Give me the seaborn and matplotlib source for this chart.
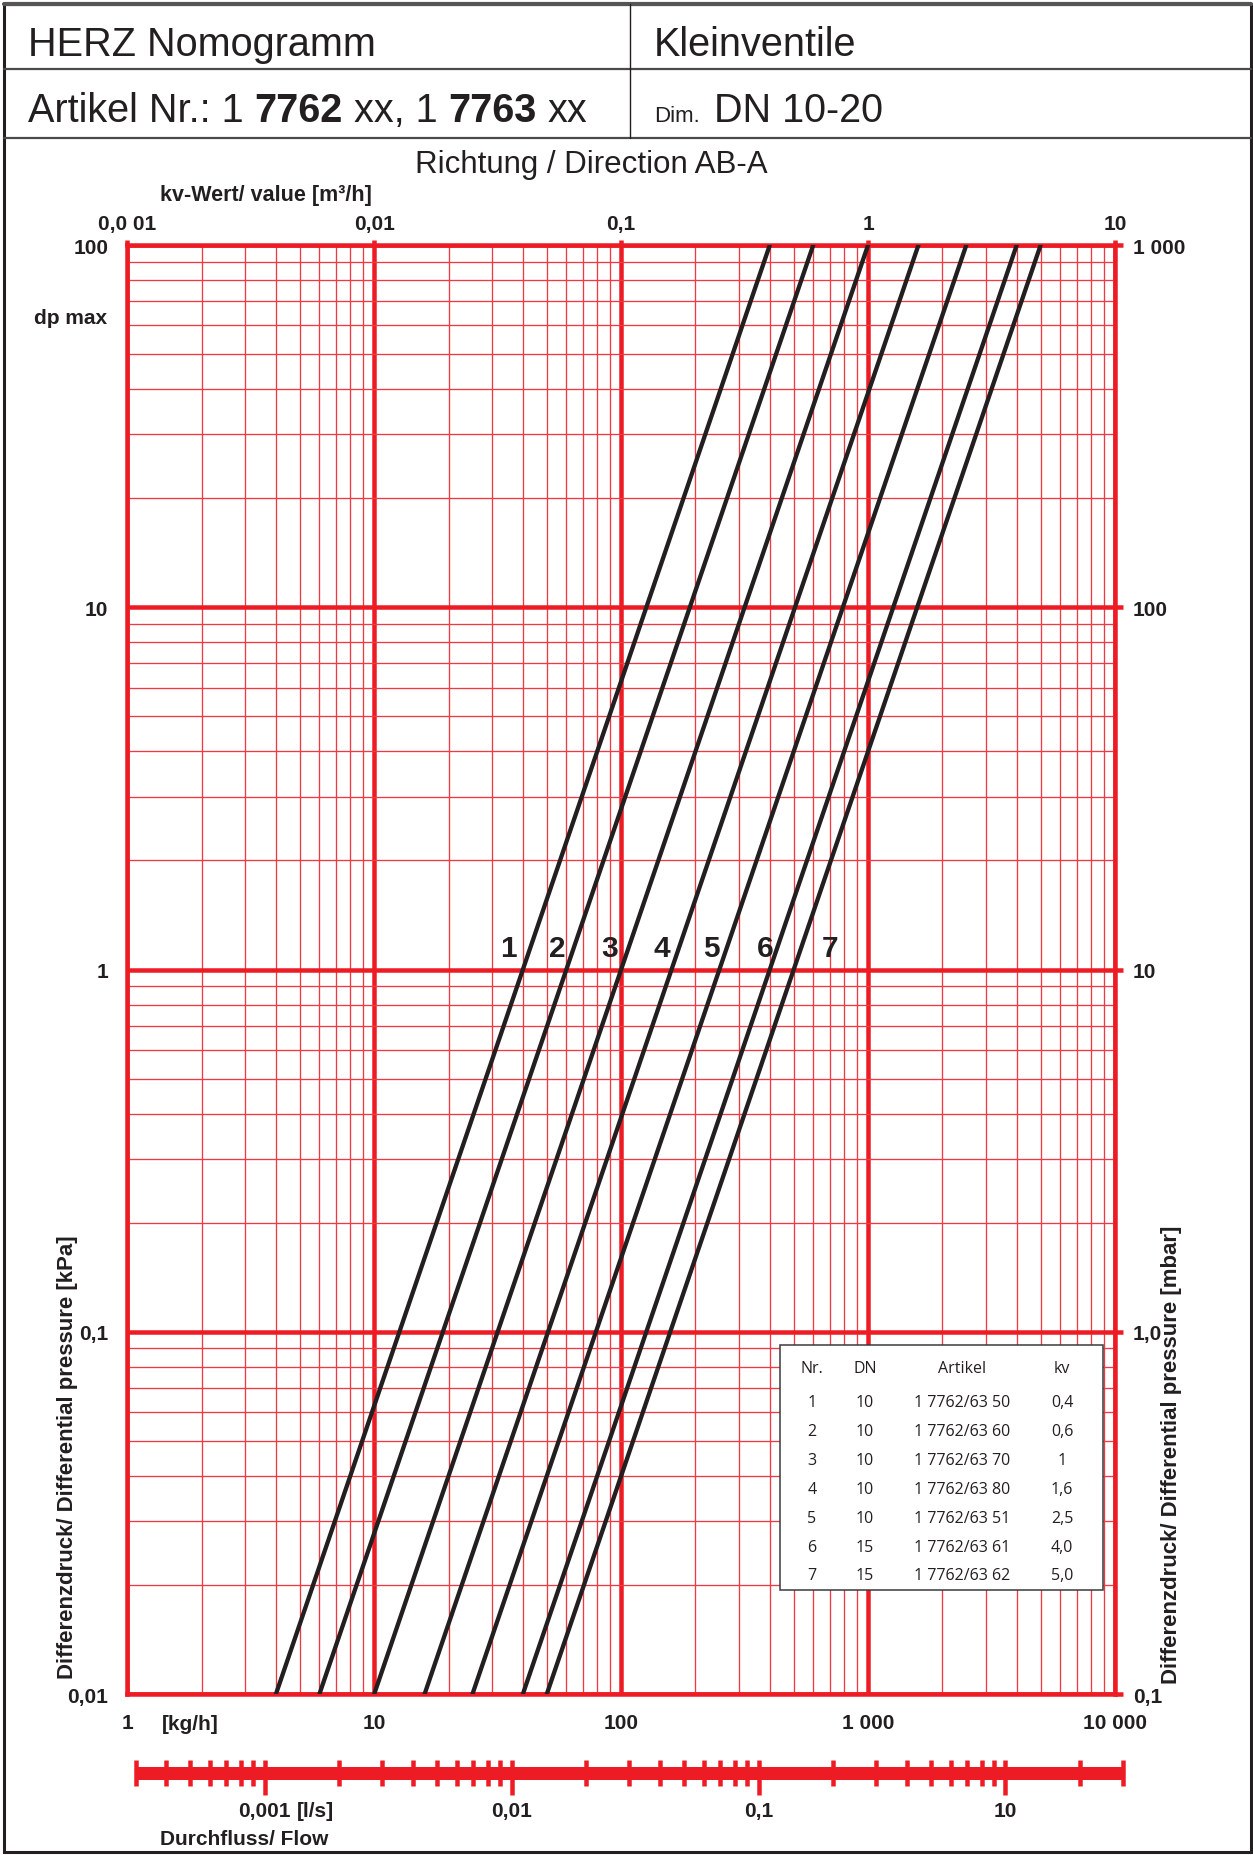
import pandas as pd
import matplotlib
matplotlib.use("Agg")
import matplotlib.pyplot as plt
import seaborn as sns
from matplotlib.lines import Line2D
from matplotlib.patches import Rectangle
from matplotlib.ticker import LogLocator, NullFormatter

# ---- values ----
curve_nr = [1, 2, 3, 4, 5, 6, 7]
dp_ends = [0.01, 100]                                   # kPa, lines run from bottom to top of grid
flow_at_dp_min = [4, 6, 10, 16, 25, 40, 50]             # kg/h at 0,01 kPa
flow_at_dp_max = [400, 600, 1000, 1600, 2500, 4000, 5000]  # kg/h at 100 kPa

table_dn = [10, 10, 10, 10, 10, 15, 15]
table_artikel = ["1 7762/63 50", "1 7762/63 60", "1 7762/63 70", "1 7762/63 80",
                 "1 7762/63 51", "1 7762/63 61", "1 7762/63 62"]
table_kv = ["0,4", "0,6", "1", "1,6", "2,5", "4,0", "5,0"]

dp_ticks = [0.01, 0.1, 1, 10, 100]
dp_labels = ["0,01", "0,1", "1", "10", "100"]
mbar_ticks = [0.1, 1, 10, 100, 1000]
mbar_labels = ["0,1", "1,0", "10", "100", "1 000"]
kgh_ticks = [1, 10, 100, 1000, 10000]
kgh_labels = ["1", "10", "100", "1 000", "10 000"]
kv_ticks = [0.001, 0.01, 0.1, 1, 10]
kv_labels = ["0,0 01", "0,01", "0,1", "1", "10"]

# flow scale in l/s under the chart
ls_major = [0.001, 0.01, 0.1, 1]
ls_major_labels = ["0,001", "0,01", "0,1", "10"]
ls_minor = [0.0003, 0.0004, 0.0005, 0.0006, 0.0007, 0.0008, 0.0009,
            0.002, 0.003, 0.004, 0.005, 0.006, 0.007, 0.008, 0.009,
            0.02, 0.03, 0.04, 0.05, 0.06, 0.07, 0.08, 0.09,
            0.2, 0.3, 0.4, 0.5, 0.6, 0.7, 0.8, 0.9, 2, 3]
KG_PER_LS = 3600  # kg/h of water per l/s

# where the curve numbers sit
label_flow = [35, 55, 90, 146, 233, 382, 700]
label_dp = 1.15

rows = []
for nr, f0, f1 in zip(curve_nr, flow_at_dp_min, flow_at_dp_max):
    rows.append((nr, f0, dp_ends[0]))
    rows.append((nr, f1, dp_ends[1]))
df = pd.DataFrame(rows, columns=["nr", "flow", "dp"])

sns.set_style("white")
plt.rcParams["font.family"] = ["Liberation Sans", "DejaVu Sans"]

RED = "#ED1C24"
RED_MINOR = "#EE3A43"
INK = "#231F20"
W, H = 1253, 1856
MAJ = 4.5 * 0.72   # px -> pt at dpi 100
TL = 15            # tick label size


def fx(x):
    return x / W


def fy(y):
    return 1 - y / H


fig = plt.figure(figsize=(W / 100, H / 100), dpi=100)

# ---- header frame ----
fig.add_artist(Rectangle((fx(4), fy(1853)), (1251 - 4) / W, (1853 - 5) / H,
                         transform=fig.transFigure, fill=False, ec=INK, lw=2.2))
fig.add_artist(Line2D([fx(4), fx(1251)], [fy(5), fy(5)], color="#555555", lw=3.0))
for yy in [70, 139]:
    fig.add_artist(Line2D([fx(4), fx(1251)], [fy(yy), fy(yy)], color="#4a4a4a", lw=1.6))
fig.add_artist(Line2D([fx(630), fx(630)], [fy(5), fy(139)], color=INK, lw=1.0))

fig.text(fx(28), fy(56), "HERZ Nomogramm", fontsize=28.5, color=INK, va="baseline")
fig.text(fx(654), fy(56), "Kleinventile", fontsize=28.5, color=INK, va="baseline")

# Artikel line with bold numbers
sp = 0.278 * 28.5
pieces = [("Artikel Nr.: 1", "normal"), ("7762", "bold"), ("xx, 1", "normal"),
          ("7763", "bold"), ("xx", "normal")]
prev = fig.text(fx(28), fy(122), pieces[0][0], fontsize=28.5, color=INK, va="baseline")
for txt, wt in pieces[1:]:
    prev = fig.add_artist(matplotlib.text.Annotation(
        txt, xy=(1, 0), xycoords=prev, xytext=(sp, 0), textcoords="offset points",
        fontsize=28.5, fontweight=wt, color=INK, va="bottom", ha="left"))
fig.text(fx(654), fy(122), "Dim.", fontsize=16, color=INK, va="baseline")
fig.text(fx(714), fy(122), "DN 10-20", fontsize=28.5, color=INK, va="baseline")

fig.text(fx(591), fy(165), "Richtung / Direction AB-A", fontsize=22.5, color=INK,
         ha="center", va="center")
fig.text(fx(160), fy(195), "kv-Wert/ value [m³/h]", fontsize=15.5, fontweight="bold",
         color=INK, va="center")

# ---- main chart ----
ax = fig.add_axes([fx(127.3), fy(1695), (1115 - 127.3) / W, (1695 - 246) / H])
ax.set_xscale("log")
ax.set_yscale("log")
sns.lineplot(data=df, x="flow", y="dp", hue="nr", palette=[INK] * len(curve_nr),
             estimator=None, sort=False, legend=False, linewidth=3.1, ax=ax, zorder=5)
ax.set_xlim(1, 10000)
ax.set_ylim(0.01, 100)
ax.set_xlabel("")
ax.set_ylabel("")

ax.xaxis.set_minor_locator(LogLocator(base=10, subs=range(2, 10), numticks=20))
ax.yaxis.set_minor_locator(LogLocator(base=10, subs=range(2, 10), numticks=20))
ax.xaxis.set_minor_formatter(NullFormatter())
ax.yaxis.set_minor_formatter(NullFormatter())
ax.grid(which="minor", color=RED_MINOR, lw=0.95)
ax.grid(which="major", color=RED, lw=MAJ)
ax.set_axisbelow(True)
for s in ax.spines.values():
    s.set_color(RED)
    s.set_linewidth(MAJ)

ax.set_xticks(kgh_ticks, kgh_labels, fontweight="bold", color=INK)
ax.set_yticks(dp_ticks, dp_labels, fontweight="bold", color=INK)
ax.tick_params(which="major", direction="out", color=RED, width=MAJ, length=5.8,
               labelsize=TL, pad=8, top=False, right=False)
ax.tick_params(which="minor", length=0)

secy = ax.secondary_yaxis("right", functions=(lambda v: v * 10, lambda v: v / 10))
secy.set_ticks(mbar_ticks, labels=mbar_labels, fontweight="bold", color=INK)
secy.yaxis.set_minor_formatter(NullFormatter())
secy.tick_params(which="major", direction="out", color=RED, width=MAJ, length=5.8,
                 labelsize=TL, pad=7)
secy.tick_params(which="minor", length=0)

secx = ax.secondary_xaxis("top", functions=(lambda v: v / 1000, lambda v: v * 1000))
secx.set_ticks(kv_ticks, labels=kv_labels, fontweight="bold", color=INK)
secx.xaxis.set_minor_formatter(NullFormatter())
secx.tick_params(which="major", direction="out", color=RED, width=MAJ, length=3.6,
                 labelsize=TL, pad=5)
secx.tick_params(which="minor", length=0)
for sa in (secx, secy):
    for s in sa.spines.values():
        s.set_visible(False)

for nr, lx in zip(curve_nr, label_flow):
    ax.text(lx, label_dp, str(nr), fontsize=21.5, fontweight="bold", color=INK,
            ha="center", va="center", zorder=6)

# table of valves
ax.add_patch(Rectangle((0.6608, 0.0718), 0.327, 0.1691, transform=ax.transAxes,
                       fc="white", ec="#3a3a3a", lw=1.1, zorder=10))
col_x = [0.6932, 0.7470, 0.8450, 0.9463]
tkw = dict(transform=ax.transAxes, fontsize=11.5, color=INK, ha="center", va="center",
           zorder=11, family=["Open Sans", "DejaVu Sans"])
for cx, head in zip(col_x, ["Nr.", "DN", "Artikel", "kv"]):
    ax.text(cx, 0.2250, head, **tkw)
for i, (nr, dn, art, kv) in enumerate(zip(curve_nr, table_dn, table_artikel, table_kv)):
    ry = 0.2015 - i * 0.01995
    for cx, val in zip(col_x, [nr, dn, art, kv]):
        ax.text(cx, ry, str(val), **tkw)

# ---- side texts ----
fig.text(fx(107), fy(318), "dp max", fontsize=TL, fontweight="bold", color=INK,
         ha="right", va="center")
fig.text(fx(68), fy(1457), "Differenzdruck/ Differential pressure [kPa]", fontsize=16,
         fontweight="bold", color=INK, rotation=90, ha="center", va="center")
fig.text(fx(1172), fy(1455), "Differenzdruck/ Differential pressure [mbar]", fontsize=16,
         fontweight="bold", color=INK, rotation=90, ha="center", va="center")
fig.text(fx(190), fy(1725), "[kg/h]", fontsize=TL, fontweight="bold", color=INK,
         ha="center", va="center")

# ---- flow scale (l/s) ----
axf = fig.add_axes([fx(127.3), fy(1799), (1115 - 127.3) / W, 50 / H])
axf.set_xscale("log")
axf.set_xlim(1 / KG_PER_LS, 10000 / KG_PER_LS)
axf.set_ylim(-25, 25)
axf.axis("off")
axf.hlines(0, ls_minor[0], ls_minor[-1], color=RED, lw=13 * 0.72, clip_on=False)
axf.vlines(ls_minor, -13, 13, color=RED, lw=MAJ, clip_on=False)
axf.vlines(ls_major, -22, 13, color=RED, lw=MAJ, clip_on=False)
for v, lab in zip(ls_major, ls_major_labels):
    axf.text(v, -38, lab, fontsize=TL, fontweight="bold", color=INK, ha="center",
             va="center", clip_on=False)
axf.annotate("[l/s]", xy=(ls_major[0], -38), xytext=(23, 0), textcoords="offset points",
             fontsize=TL, fontweight="bold", color=INK, ha="left", va="center",
             annotation_clip=False)
fig.text(fx(160), fy(1840), "Durchfluss/ Flow", fontsize=TL, fontweight="bold", color=INK,
         ha="left", va="center")

fig.savefig("out.png", dpi=100)
